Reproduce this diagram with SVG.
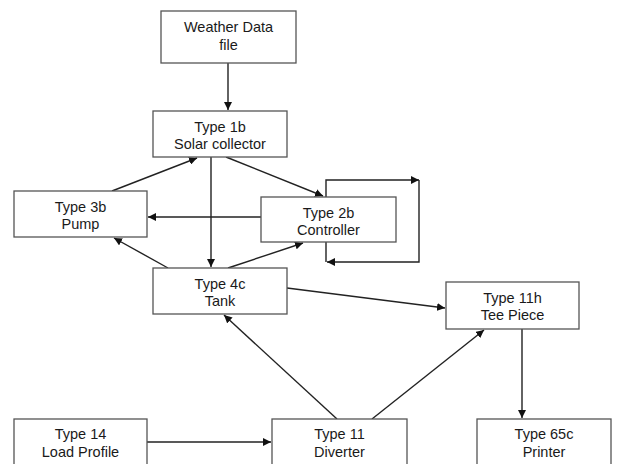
<svg xmlns="http://www.w3.org/2000/svg" width="617" height="464" viewBox="0 0 617 464">
  <style>
    .box { fill: #fff; stroke: #555; stroke-width: 1.3; }
    .lbl { font-family: "Liberation Sans", Arial, sans-serif; font-size: 14.5px; fill: #1a1a1a; text-anchor: middle; }
    .wire { fill: none; stroke: #222; stroke-width: 1.4; }
  </style>
  <defs>
    <marker id="arrow" markerUnits="userSpaceOnUse" markerWidth="9" markerHeight="8" refX="8" refY="4" orient="auto">
      <path d="M0,0 L8,4 L0,8 Z" fill="#111"/>
    </marker>
  </defs>
  <rect width="617" height="464" fill="#fff"/>

  <g id="connectors">
    <line class="wire" x1="228" y1="63" x2="228" y2="110" marker-end="url(#arrow)"/>
    <line class="wire" x1="211" y1="157" x2="211" y2="267" marker-end="url(#arrow)"/>
    <line class="wire" x1="112" y1="191" x2="197" y2="158" marker-end="url(#arrow)"/>
    <line class="wire" x1="226" y1="157" x2="323" y2="196" marker-end="url(#arrow)"/>
    <line class="wire" x1="261" y1="217" x2="148" y2="217" marker-end="url(#arrow)"/>
    <line class="wire" x1="168" y1="268" x2="114" y2="238" marker-end="url(#arrow)"/>
    <line class="wire" x1="228" y1="268" x2="303" y2="243" marker-end="url(#arrow)"/>
    <polyline class="wire" points="326,197 326,180 419,180" marker-end="url(#arrow)"/>
    <polyline class="wire" points="419,180 419,262 327,262" marker-end="url(#arrow)"/>
    <line class="wire" x1="326" y1="242" x2="326" y2="262"/>
    <line class="wire" x1="287" y1="288" x2="445" y2="308" marker-end="url(#arrow)"/>
    <line class="wire" x1="337" y1="419" x2="224" y2="315" marker-end="url(#arrow)"/>
    <line class="wire" x1="372" y1="419" x2="484" y2="330" marker-end="url(#arrow)"/>
    <line class="wire" x1="522" y1="329" x2="522" y2="418" marker-end="url(#arrow)"/>
    <line class="wire" x1="147" y1="442" x2="271" y2="442" marker-end="url(#arrow)"/>
  </g>

  <g id="weather">
    <rect class="box" x="161" y="11" width="135" height="52"/>
    <text class="lbl" x="228.5" y="32">Weather Data</text>
    <text class="lbl" x="228.5" y="50">file</text>
  </g>
  <g id="type1b">
    <rect class="box" x="153" y="111" width="134" height="46"/>
    <text class="lbl" x="220" y="132">Type 1b</text>
    <text class="lbl" x="220" y="149">Solar collector</text>
  </g>
  <g id="type3b">
    <rect class="box" x="14" y="191" width="133" height="46"/>
    <text class="lbl" x="80.5" y="212">Type 3b</text>
    <text class="lbl" x="80.5" y="229">Pump</text>
  </g>
  <g id="type2b">
    <rect class="box" x="261" y="197" width="135" height="45"/>
    <text class="lbl" x="328.5" y="218">Type 2b</text>
    <text class="lbl" x="328.5" y="235">Controller</text>
  </g>
  <g id="type4c">
    <rect class="box" x="153" y="268" width="134" height="46"/>
    <text class="lbl" x="220" y="289">Type 4c</text>
    <text class="lbl" x="220" y="306">Tank</text>
  </g>
  <g id="type11h">
    <rect class="box" x="446" y="282" width="133" height="47"/>
    <text class="lbl" x="512.5" y="303">Type 11h</text>
    <text class="lbl" x="512.5" y="320">Tee Piece</text>
  </g>
  <g id="type14">
    <rect class="box" x="14" y="419" width="133" height="60"/>
    <text class="lbl" x="80.5" y="439">Type 14</text>
    <text class="lbl" x="80.5" y="457">Load Profile</text>
  </g>
  <g id="type11">
    <rect class="box" x="272" y="419" width="135" height="60"/>
    <text class="lbl" x="339.5" y="439">Type 11</text>
    <text class="lbl" x="339.5" y="457">Diverter</text>
  </g>
  <g id="type65c">
    <rect class="box" x="477" y="419" width="134" height="60"/>
    <text class="lbl" x="544" y="439">Type 65c</text>
    <text class="lbl" x="544" y="457">Printer</text>
  </g>
</svg>
